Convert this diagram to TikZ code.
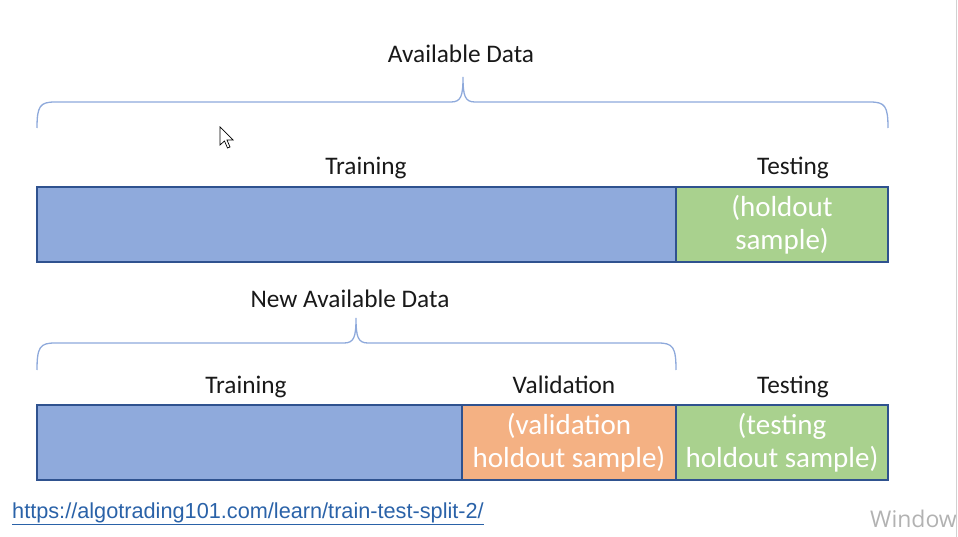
\documentclass[tikz,border=0pt]{standalone}
\usepackage{fontspec}
\setmainfont{Carlito}
\newfontfamily\linkfont{Liberation Sans}
\newfontfamily\winfont{Open Sans}
\usepackage{tikz}
\usetikzlibrary{positioning,calc}
\definecolor{trainblue}{HTML}{8FAADC}
\definecolor{edgeblue}{HTML}{2F528F}
\definecolor{testgreen}{HTML}{A9D18E}
\definecolor{valorange}{HTML}{F4B183}
\definecolor{bracecol}{HTML}{8EA9DB}
\definecolor{linkblue}{HTML}{2A62A8}
\tikzset{
  part/.style={draw=edgeblue, line width=2.2pt, minimum height=75pt, inner sep=0pt, outer sep=0pt, text=white, align=center, font=\fontsize{29}{33.5}\selectfont},
  lbl/.style={anchor=base, text=black!90, font=\fontsize{25.3}{28}\selectfont},
  brace/.style={draw=bracecol, line width=1.3pt},
}

\begin{document}
\begin{tikzpicture}[x=1pt,y=-1pt]
\useasboundingbox (0,0) rectangle (958,537);
% first split
\node[part, fill=trainblue, minimum width=639pt, anchor=north west] (train1) at (37,187) {};
\node[part, fill=testgreen, minimum width=212pt, right=0pt of train1] (test1) {(holdout\\sample)};
\node[lbl] (trainlbl1) at (366,175) {Training};
\node[lbl] (testlbl1) at (793,175) {Testing};
\node[lbl] (data1) at (461,63) {Available Data};
\draw[brace] (37,128) .. controls (37,106) and (40,102) .. (55,102) -- (451,102) .. controls (461,102) and (463,96) .. (463,77) .. controls (463,96) and (465,102) .. (475,102) -- (870,102) .. controls (885,102) and (888,106) .. (888,128);
% second split
\node[part, fill=trainblue, minimum width=425pt, anchor=north west] (train2) at (37,405) {};
\node[part, fill=valorange, minimum width=214pt, right=0pt of train2] (val2) {(validation\\holdout sample)};
\node[part, fill=testgreen, minimum width=212pt, right=0pt of val2] (test2) {(testing\\holdout sample)};
\node[lbl] (trainlbl2) at (246,393) {Training};
\node[lbl] (vallbl2) at (564,393) {Validation};
\node[lbl] (testlbl2) at (793,393) {Testing};
\node[lbl] (data2) at (350,308) {New Available Data};
\draw[brace] (37,370) .. controls (37,347) and (40,343) .. (55,343) -- (344,343) .. controls (354,343) and (356,337) .. (356,318) .. controls (356,337) and (358,343) .. (368,343) -- (658,343) .. controls (673,343) and (676,347) .. (676,370);
% source and screen bits
\node[anchor=base west, inner sep=0pt, text=linkblue, font=\linkfont\fontsize{21.7}{24}\selectfont] (src) at (12,518) {\underline{https://algotrading101.com/learn/train-test-split-2/}};
\node[anchor=base west, inner sep=0pt, text=black!30, font=\winfont\fontsize{23}{26}\selectfont] (win) at (870,527) {Window};
\draw[black!18, line width=1pt] (956.5,0) -- (956.5,537);
\draw[fill=white, line width=0.7pt] (220,127) -- (220,145) -- (224.5,141) -- (227.5,148) -- (230,147) -- (227,140) -- (233,140) -- cycle;
\end{tikzpicture}
\end{document}
